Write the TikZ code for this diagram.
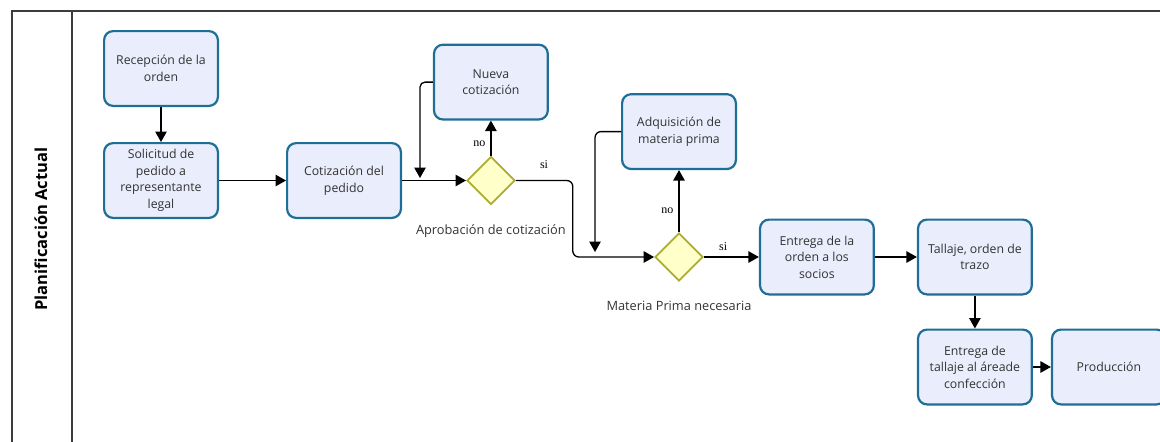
\documentclass[tikz,border=0pt]{standalone}
\usepackage{fontspec}
\setmainfont{Open Sans}
\newfontfamily\labelfont{Liberation Serif}
\usetikzlibrary{shapes.geometric,positioning,arrows.meta}

\definecolor{procblue}{RGB}{30,110,150}
\definecolor{procfill}{RGB}{234,237,252}
\definecolor{gateline}{RGB}{172,172,50}
\definecolor{gatefill}{RGB}{255,255,202}
\definecolor{laneline}{RGB}{60,60,60}

\begin{document}
\begin{tikzpicture}[x=1pt,y=-1pt,
  node distance=35pt and 64pt,
  procnode/.style={draw=procblue,fill=procfill,line width=2.2pt,rounded corners=9pt,
    minimum width=113.8pt,minimum height=74.8pt,align=center,
    inner sep=0pt,font=\fontsize{12.3}{16.6}\selectfont,text=black!80},
  gatenode/.style={diamond,draw=gateline,fill=gatefill,line width=1.8pt,
    minimum width=48pt,minimum height=48pt,inner sep=0pt},
  gatelabel/.style={inner sep=0pt,font=\fontsize{12.8}{15}\selectfont,text=black!80},
  flow/.style={line width=1.3pt,-{Triangle[length=10.5pt,width=11.5pt]}},
  answer/.style={font=\labelfont\fontsize{12}{14}\selectfont,inner sep=0pt}
]
\useasboundingbox (0,0) rectangle (1160,442);
\clip (0,0) rectangle (1160,442);

% lane
\draw[laneline,line width=1.2pt] (12,11) rectangle (1200,470);
\draw[laneline,line width=1.2pt] (72,11) -- (72,470);
\node[rotate=90,font=\fontsize{16.5}{19}\selectfont\bfseries] (lane) at (41,229) {Planificación Actual};

% tasks
\node[procnode] (recepcion) at (161,68.5) {Recepción de la\\orden};
\node[procnode,below=35pt of recepcion] (solicitud) {Solicitud de\\pedido a\\representante\\legal};
\node[procnode,right=67pt of solicitud] (cotizacion) {Cotización del\\pedido};
\node[gatenode,right=64pt of cotizacion] (aprob) {};
\node[gatelabel,below=19pt of aprob] (aproblab) {Aprobación de cotización};
\node[procnode,above=35pt of aprob] (nueva) {Nueva\\cotización};

\node[gatenode] (materia) at (679,257) {};
\node[gatelabel,below=19pt of materia] (materialab) {Materia Prima necesaria};
\node[procnode,above=62pt of materia] (adquisicion) {Adquisición de\\materia prima};
\node[procnode,right=55pt of materia] (entrega) {Entrega de la\\orden a los\\socios};
\node[procnode,right=42pt of entrega] (tallaje) {Tallaje, orden de\\trazo};
\node[procnode,below=33pt of tallaje] (entregatallaje) {Entrega de\\tallaje al áreade\\confección};
\node[procnode,right=18pt of entregatallaje] (produccion) {Producción};

\coordinate (back1) at (420,178);
\coordinate (back2) at (595,252);

% flows
\draw[flow] (recepcion) -- (solicitud);
\draw[flow] (solicitud) -- (cotizacion);
\draw[flow] (cotizacion) -- (aprob);
\draw[flow] (aprob.north) -- node[answer,left=5pt,pos=0.35] (no1) {no} (nueva.south);
\draw[flow,rounded corners=5pt] (nueva.west) -| (back1);
\draw[flow,rounded corners=6pt] (aprob.east) -- ++(57,0) |- (materia.west);
\node[answer] (si1) at (544,165) {si};
\draw[flow] (materia.north) -- node[answer,left=5pt,pos=0.35] (no2) {no} (adquisicion.south);
\draw[flow,rounded corners=6pt] (adquisicion.west) -| (back2);
\draw[flow] (materia.east) -- node[answer,above=6pt,pos=0.35] (si2) {si} (entrega.west);
\draw[flow] (entrega) -- (tallaje);
\draw[flow] (tallaje) -- (entregatallaje);
\draw[flow] (entregatallaje) -- (produccion);

\end{tikzpicture}
\end{document}
